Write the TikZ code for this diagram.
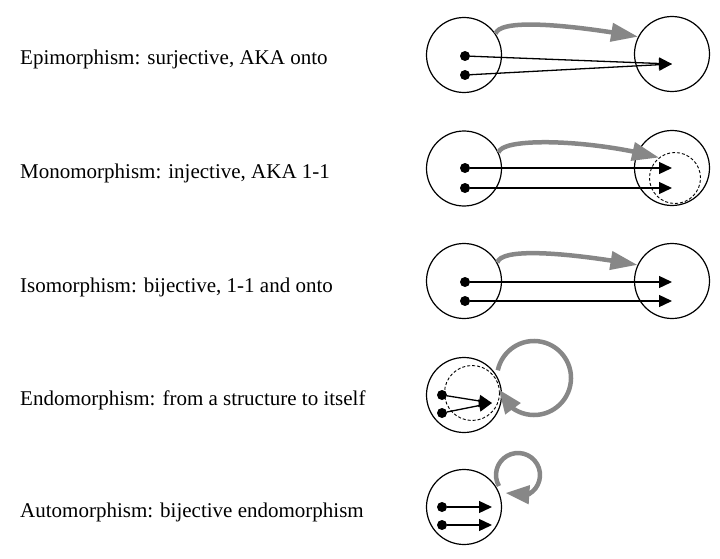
\documentclass[tikz,border=0pt]{standalone}
\usepackage{fontspec}
\setmainfont{Liberation Serif}
\usetikzlibrary{arrows.meta,bending}
\begin{document}
\begin{tikzpicture}[x=1pt,y=1pt,
  setc/.style={circle,draw,line width=1.2pt,minimum size=75pt,inner sep=0pt},
  imgset/.style={circle,draw,dash pattern=on 3pt off 2pt,line width=0.9pt,inner sep=0pt},
  dot/.style={circle,fill,inner sep=0pt,minimum size=10pt},
  map/.style={line width=1.3pt,-{Triangle[length=13pt,width=12pt]}},
  morph/.style={draw=black!47,line width=4.5pt,-{Triangle[length=27pt,width=18pt]}},
  selfmorph/.style={draw=black!47,line width=4.5pt,-{Triangle[length=24pt,width=18pt]}},
  caption/.style={anchor=base west,font=\fontsize{21}{25}\selectfont,inner sep=0pt}]
\useasboundingbox (0,0) rectangle (720,-559);

% captions
\node[caption] (c1) at (20,-65) {Epimorphism: surjective, AKA onto};
\node[caption] (c2) at (20,-178) {Monomorphism: injective, AKA 1-1};
\node[caption] (c3) at (20,-292) {Isomorphism: bijective, 1-1 and onto};
\node[caption] (c4) at (20,-405) {Endomorphism: from a structure to itself};
\node[caption] (c5) at (20,-517) {Automorphism: bijective endomorphism};

% row 1: epimorphism
\node[setc] (A1) at (464,-55) {};
\node[setc] (B1) at (672,-54) {};
\node[dot] (a1) at (465,-56) {};
\node[dot] (b1) at (465,-75) {};
\coordinate (t1) at (672,-64);
\draw[map] (a1) -- (t1);
\draw[map] (b1) -- (t1);
\draw[morph] (A1.34) to[out=75,in=170,out distance=16pt,in distance=70pt] (B1.153);

% row 2: monomorphism
\node[setc] (A2) at (464,-168.5) {};
\node[setc] (B2) at (672,-168) {};
\node[imgset,minimum size=51pt] (D2) at (675,-178) {};
\node[dot] (a2) at (465,-168) {};
\node[dot] (b2) at (465,-188) {};
\coordinate (s2) at (672,-168);
\coordinate (t2) at (672,-188);
\draw[map] (a2) -- (s2);
\draw[map] (b2) -- (t2);
\draw[morph] (A2.25) to[out=75,in=165,out distance=16pt,in distance=70pt] (D2.128);

% row 3: isomorphism
\node[setc] (A3) at (464,-281) {};
\node[setc] (B3) at (672,-281) {};
\node[dot] (a3) at (465,-282) {};
\node[dot] (b3) at (465,-301) {};
\coordinate (s3) at (672,-282);
\coordinate (t3) at (672,-301);
\draw[map] (a3) -- (s3);
\draw[map] (b3) -- (t3);
\draw[morph] (A3.29) to[out=75,in=170,out distance=16pt,in distance=70pt] (B3.155);

% row 4: endomorphism
\node[setc] (A4) at (464,-395) {};
\node[imgset,minimum size=55pt] (D4) at (472,-393) {};
\node[dot] (a4) at (442,-395) {};
\node[dot] (b4) at (442,-413) {};
\coordinate (t4) at (492,-403);
\draw[map] (a4) -- (t4);
\draw[map] (b4) -- (t4);
\coordinate (l4) at (534,-378);
\draw[selfmorph] (l4) ++(168:37) arc[start angle=168,end angle=-162,radius=37];

% row 5: automorphism
\node[setc] (A5) at (464,-507) {};
\node[dot] (a5) at (442,-507) {};
\node[dot] (b5) at (442,-525) {};
\coordinate (s5) at (492,-507);
\coordinate (t5) at (492,-525);
\draw[map] (a5) -- (s5);
\draw[map] (b5) -- (t5);
\coordinate (l5) at (518,-475);
\draw[selfmorph] (l5) ++(210:22) arc[start angle=210,end angle=-125,radius=22];
\end{tikzpicture}
\end{document}
